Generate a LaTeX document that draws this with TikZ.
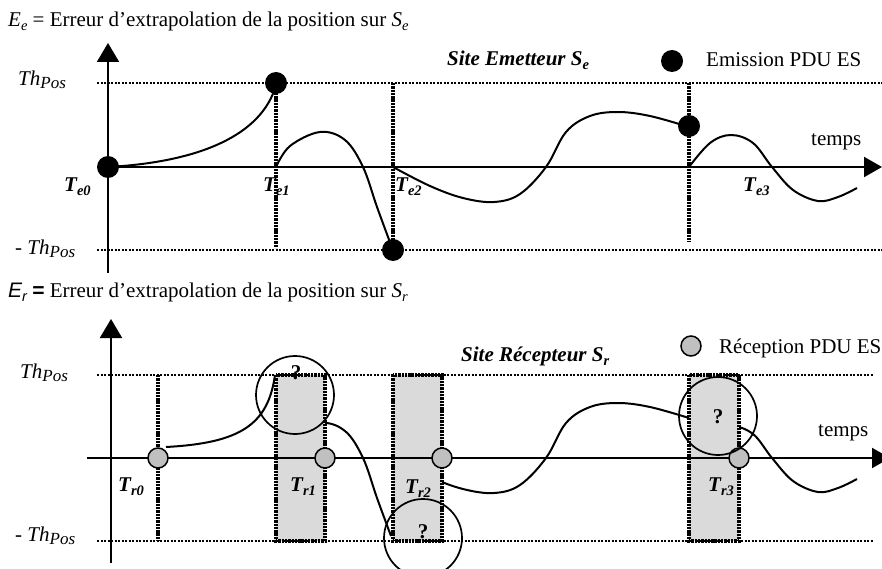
\documentclass[tikz,border=0pt]{standalone}
\usepackage{fontspec}
\setmainfont{Liberation Serif}
\newfontfamily\arialfont{Liberation Sans}
\usetikzlibrary{arrows.meta}
\definecolor{recvgray}{RGB}{192,192,192}
\definecolor{waitgray}{RGB}{218,218,218}
\newcommand\sbs[1]{\raisebox{-4pt}{\fontsize{14.5}{14}\selectfont #1}}
\newcommand\thpos{\textit{Th}\raisebox{-3pt}{\fontsize{17}{17}\selectfont\textit{Pos}}}

\begin{document}
\begin{tikzpicture}
  [
    x=1pt, y=-1pt,
    every node/.style={font=\fontsize{21}{24}\selectfont, inner sep=0pt},
    yaxis/.style = {line width=2pt, -{Triangle[length=19pt,width=22pt]}},
    xaxis/.style = {line width=2pt, -{Triangle[length=18pt,width=20pt]}},
    curve/.style = {line width=2pt, line join=round},
    thres/.style = {line width=1.9pt, dash pattern=on 2.1pt off 1.4pt},
    tick/.style  = {line width=3.2pt, dash pattern=on 2.4pt off 0.9pt},
    emis/.style  = {circle, fill=black, minimum size=22pt},
    recv/.style  = {circle, draw, line width=1.5pt, fill=recvgray, minimum size=20pt},
    doubt/.style = {circle, draw, line width=1.7pt, minimum size=78pt},
    stamp/.style = {anchor=base west, font=\fontsize{21}{24}\selectfont\bfseries\itshape},
    site/.style  = {anchor=base west, font=\fontsize{21}{24}\selectfont\bfseries\itshape},
    qmark/.style = {font=\fontsize{21}{24}\selectfont\bfseries},
    txt/.style   = {anchor=base west},
  ]

  \useasboundingbox (0,0) rectangle (882,569);

  % the error curves of the sender
  \def\curveA{(108,167) .. controls (200,162) and (262,135) .. (276,85)}
  \def\curveB{plot[smooth, tension=0.6] coordinates {(276,167) (290,146) (320,132) (345,140) (363,167) (377,207) (391,245)}}
  \def\curveC{plot[smooth, tension=0.6] coordinates {(393,167) (430,186) (463,198) (494,202) (520,194) (546,167) (566,132) (590,116) (618,112) (650,116) (689,127)}}
  \def\curveD{plot[smooth, tension=0.6] coordinates {(689,167) (710,143) (731,135) (753,143) (772,167) (793,190) (818,201) (838,197) (857,188)}}

  % ---------- Site Emetteur ----------
  \node[txt] (titleE) at (8,27) {\textit{E}\sbs{\textit{e}} = Erreur d’extrapolation de la position sur \textit{S}\sbs{\textit{e}}};
  \node[site] (siteE) at (447,66) {Site Emetteur S\sbs{e}};
  \node[emis] (legE) at (672,61) {};
  \node[txt] (legEtext) at (706,67) {Emission PDU ES};
  \node[txt] (tempsE) at (811,146) {temps};

  \node[txt] (thEup) at (18,86) {\thpos};
  \node[txt] (thEdown) at (15,254) {- \thpos};
  \draw[thres] (97,83) -- (882,83);
  \draw[thres] (97,250) -- (882,250);

  \node[stamp] (le0) at (64,192) {T\sbs{e0}};
  \node[stamp] (le1) at (263,192) {T\sbs{e1}};
  \node[stamp] (le2) at (395,192) {T\sbs{e2}};
  \node[stamp] (le3) at (743,192) {T\sbs{e3}};

  \draw[tick] (276,83) -- (276,248);
  \draw[tick] (393,83) -- (393,250);
  \draw[tick] (689,83) -- (689,242);

  \draw[yaxis] (108,273) -- (108,43);
  \draw[xaxis] (100,167) -- (882,167);

  \draw[curve] \curveA;
  \draw[curve] \curveB;
  \draw[curve] \curveC;
  \draw[curve] \curveD;

  \node[emis] (e0) at (108,167) {};
  \node[emis] (e1) at (276,83) {};
  \node[emis] (e2) at (393,250) {};
  \node[emis] (e3) at (689,126) {};

  % ---------- Site Recepteur ----------
  \fill[waitgray] (276,375) rectangle (325,541);
  \fill[waitgray] (393,375) rectangle (442,541);
  \fill[waitgray] (689,375) rectangle (739,541);
  \draw[tick] (276,375) rectangle (325,541);
  \draw[tick] (393,375) rectangle (442,541);
  \draw[tick] (689,375) rectangle (739,541);

  \node[txt] (titleR) at (8,297) {{\arialfont\itshape E\sbs{r}} {\arialfont\bfseries =} Erreur d’extrapolation de la position sur \textit{S}\sbs{\textit{r}}};
  \node[site] (siteR) at (461,361) {Site Récepteur S\sbs{r}};
  \node[recv] (legR) at (691,346) {};
  \node[txt] (legRtext) at (719,353) {Réception PDU ES};
  \node[txt] (tempsR) at (818,436) {temps};

  \node[txt] (thRup) at (20,378) {\thpos};
  \node[txt] (thRdown) at (15,541) {- \thpos};
  \draw[thres] (97,375) -- (873,375);
  \draw[thres] (97,541) -- (873,541);
  \draw[tick] (158,375) -- (158,541);

  \node[stamp] (lr0) at (118,491) {T\sbs{r0}};
  \node[stamp] (lr1) at (290,491) {T\sbs{r1}};
  \node[stamp] (lr2) at (405,493) {T\sbs{r2}};
  \node[stamp] (lr3) at (708,491) {T\sbs{r3}};

  \draw[yaxis] (111,563) -- (111,319);
  \draw[xaxis] (87,458) -- (890,458);

  \draw[curve] (166,447) .. controls (240,443) and (268,425) .. (275,375);
  \begin{scope}[shift={(0,291)}]
    \begin{scope}
      \clip (325,0) rectangle (400,300);
      \draw[curve] \curveB;
    \end{scope}
    \begin{scope}
      \clip (442,0) rectangle (700,300);
      \draw[curve] \curveC;
    \end{scope}
    \begin{scope}
      \clip (739,0) rectangle (882,300);
      \draw[curve] \curveD;
    \end{scope}
  \end{scope}

  \node[recv] (r0) at (158,458) {};
  \node[recv] (r1) at (325,458) {};
  \node[recv] (r2) at (442,458) {};
  \node[recv] (r3) at (739,458) {};

  \node[doubt] (q1) at (295,395) {};
  \node[doubt] (q2) at (423,538) {};
  \node[doubt] (q3) at (718,416) {};
  \node[qmark] (q1mark) at (296,373) {?};
  \node[qmark] (q2mark) at (423,532) {?};
  \node[qmark] (q3mark) at (718,417) {?};

\end{tikzpicture}
\end{document}
